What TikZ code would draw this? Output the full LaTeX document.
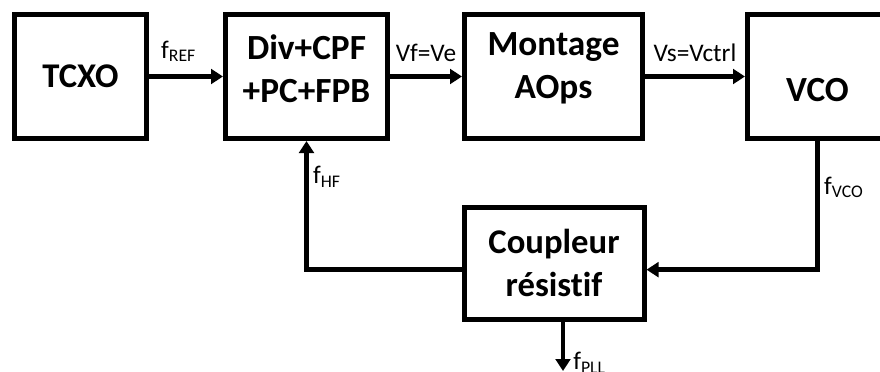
\documentclass[tikz,border=0pt]{standalone}
\usepackage{fontspec}
\setmainfont{Carlito}[Ligatures=CommonOff]
\usetikzlibrary{arrows.meta}

\tikzset{
  block/.style={draw, line width=3.75pt, inner sep=0pt, align=center,
    font=\fontsize{26}{32}\selectfont\bfseries},
  blocktxt/.style={align=center, font=\fontsize{26.5}{32}\selectfont\bfseries},
  link/.style={line width=3.4pt, -{Triangle[length=9pt,width=11pt]}},
  sig/.style={font=\fontsize{19}{22}\selectfont},
}

\begin{document}
\begin{tikzpicture}[x=0.75pt,y=-0.75pt]
        \clip (0,0) rectangle (880,371);

        % blocks
        \node[block, minimum width=99pt, minimum height=93pt] (tcxo) at (80.5,76.5) {TCXO};
        \node[block, minimum width=121.5pt, minimum height=93pt,
              label={[blocktxt, yshift=6pt]center:Div+CPF\\+PC+FPB}] (div) at (306.5,76.5) {};
        \node[block, minimum width=133.5pt, minimum height=93pt,
              label={[blocktxt, yshift=6pt]center:Montage\\AOps}] (aops) at (553.5,76.5) {};
        \node[block, minimum width=105pt, minimum height=93pt,
              label={[blocktxt, yshift=-10pt]center:VCO}] (vco) at (817.5,76.5) {};
        \node[block, minimum width=135pt, minimum height=84pt] (coupl) at (554,263) {Coupleur\\résistif};
        \coordinate (pll) at (563,371);

        % signals
        \draw[link] (tcxo) -- node[sig, above=6pt, pos=.4] {f\textsubscript{REF}} (div);
        \draw[link] (div) -- node[sig, above=6pt] {Vf=Ve} (aops);
        \draw[link] (aops) -- node[sig, above=6pt] {Vs=Vctrl} (vco);
        \draw[link] (vco.south) |- node[sig, right, pos=.18] {f\textsubscript{VCO}} ([yshift=-5pt]coupl.east);
        \draw[link] ([yshift=-5pt]coupl.west) -| node[sig, right, pos=.86] {f\textsubscript{HF}} (div.south);
        \draw[link] (coupl.south -| pll) -- (pll)
              node[sig, anchor=base west, inner sep=0pt, xshift=6pt, yshift=1pt] {f\textsubscript{PLL}};
\end{tikzpicture}
\end{document}
